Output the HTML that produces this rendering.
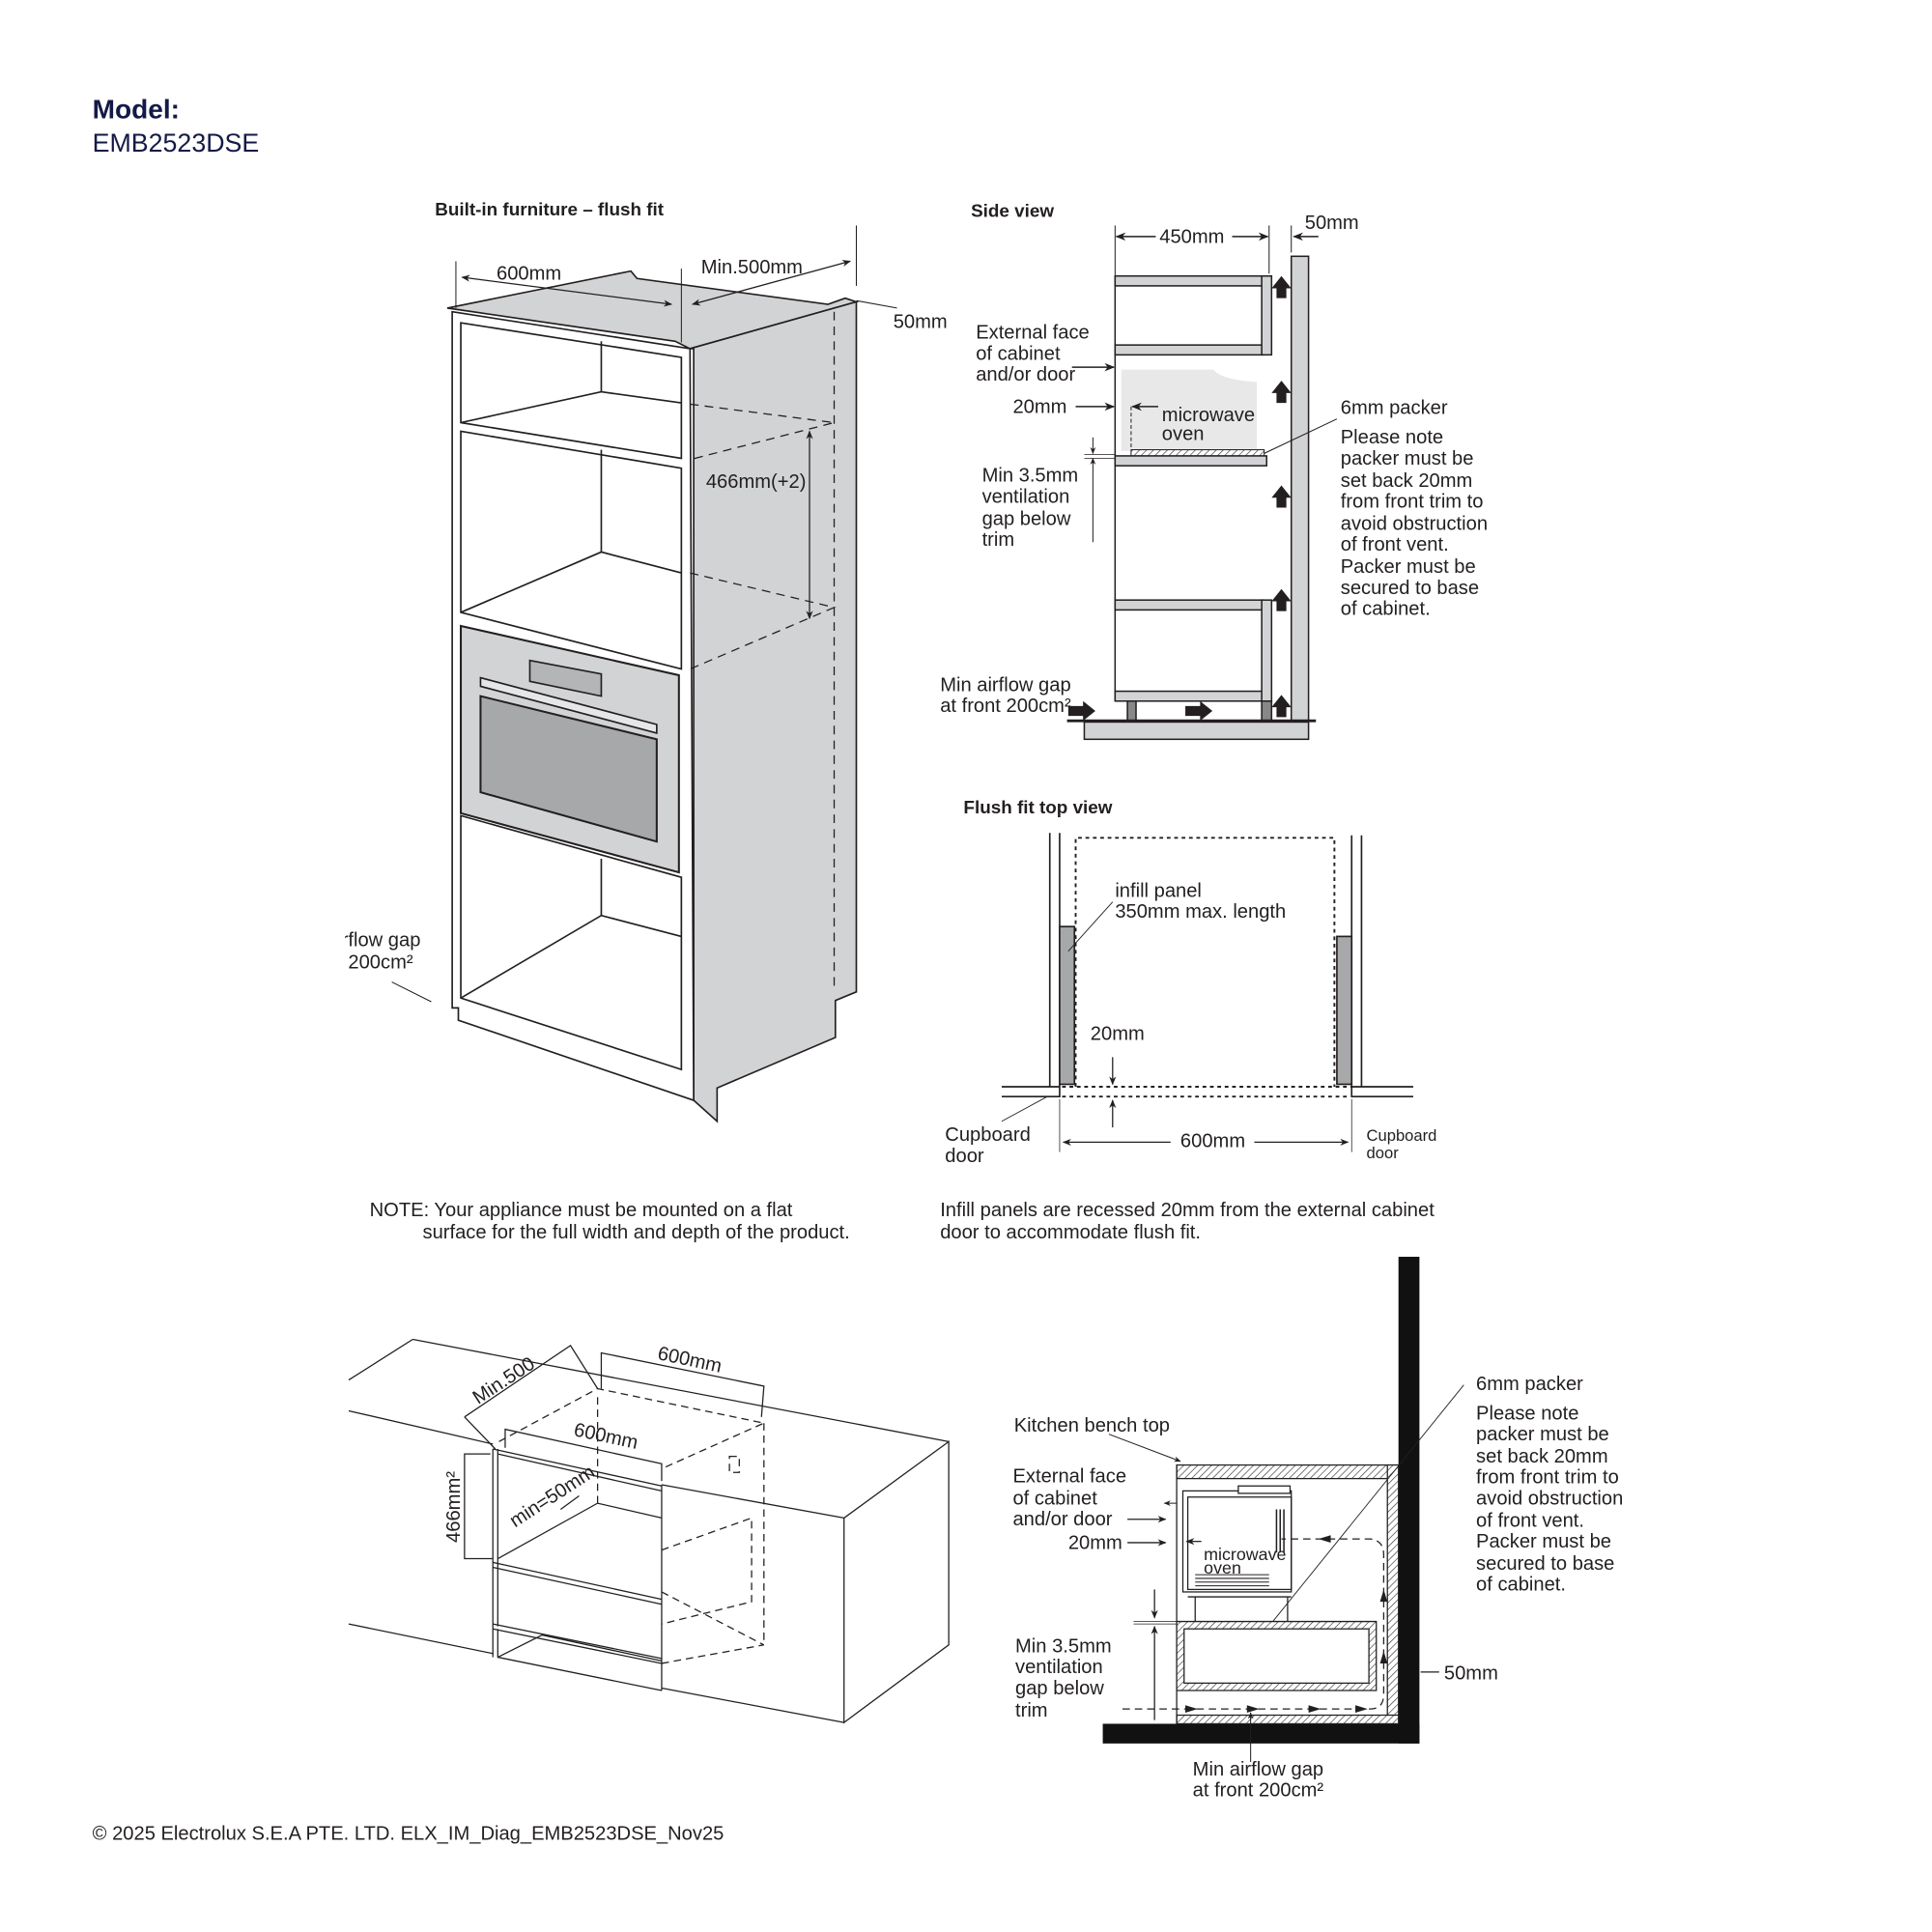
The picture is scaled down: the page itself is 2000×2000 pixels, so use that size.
<!DOCTYPE html>
<html><head><meta charset="utf-8"><style>
html,body{margin:0;padding:0;background:#fff;}
svg{display:block;}
text{font-family:"Liberation Sans",sans-serif;fill:#231f20;}
</style></head><body>
<svg width="2000" height="2000" viewBox="0 0 1568 1568" xmlns="http://www.w3.org/2000/svg">
<defs>
<marker id="a" viewBox="0 0 10 10" refX="9" refY="5" markerWidth="7" markerHeight="7" orient="auto-start-reverse"><path d="M0,1 L10,5 L0,9 L3,5 z" fill="#231f20"/></marker>
<pattern id="h" width="4" height="4" patternUnits="userSpaceOnUse" patternTransform="rotate(45)"><rect width="4" height="4" fill="#fff"/><line x1="0" y1="0" x2="0" y2="4" stroke="#333" stroke-width="1"/></pattern>
</defs>

<text x="75" y="96" font-size="22" font-weight="bold" style="fill:#141a46">Model:</text>
<text x="75" y="123" font-size="21" style="fill:#141a46">EMB2523DSE</text>

<!-- ===== Tall cabinet ===== -->
<text x="353" y="175" font-size="14.8" font-weight="bold">Built-in furniture – flush fit</text>
<g stroke="#231f20" stroke-width="1.3" fill="none">
<polygon points="363,250 512,220 517,226 672,247 686,242 695,245 560,283 548,277" fill="#d2d3d5"/>
<polygon points="560,283 695,245 695,805 678,812 678,842 582,883 582,910 563,893 563,283" fill="#d2d3d5"/>
<polygon points="367,253 560,283 563,893 372,828 372,818 367,818" fill="#fff"/>
<polygon points="374,262 553,290 553,372 374,343"/>
<polyline points="488,277 488,318"/><polyline points="374,343 488,318 553,327"/>
<polygon points="374,350 553,380 553,543 374,497"/>
<polyline points="488,365 488,448"/><polyline points="374,497 488,448 553,465"/>
<polygon points="374,508 551,548 551,708 374,660" fill="#d2d3d5" stroke-width="1.6"/>
<polygon points="430,536 488,547 488,565 430,553" fill="#b4b5b7"/>
<polygon points="390,550 533,588 533,595 390,557" fill="#e5e6e7"/>
<polygon points="390,565 533,600 533,683 390,643" fill="#a7a8aa" stroke-width="1.6"/>
<polygon points="374,662 553,712 553,868 374,810"/>
<polyline points="488,697 488,743"/><polyline points="374,810 488,743 553,760"/>
<g stroke-dasharray="7,5" stroke-width="1">
<line x1="677" y1="253" x2="677" y2="800"/>
<polyline points="560,328 677,343 560,373"/>
<polyline points="560,465 677,493 560,543"/>
</g>
<line x1="657" y1="350" x2="657" y2="502" marker-start="url(#a)" marker-end="url(#a)" stroke-width="1"/>
<line x1="370" y1="212" x2="370" y2="250" stroke-width="0.8"/>
<line x1="553" y1="218" x2="553" y2="278" stroke-width="0.8"/>
<line x1="375" y1="225" x2="545" y2="247" marker-start="url(#a)" marker-end="url(#a)" stroke-width="1"/>
<line x1="562" y1="247" x2="690" y2="212" marker-start="url(#a)" marker-end="url(#a)" stroke-width="1"/>
<line x1="695" y1="183" x2="695" y2="232" stroke-width="0.8"/>
<line x1="695" y1="244" x2="728" y2="250" stroke-width="0.8"/>
<line x1="318" y1="797" x2="350" y2="813" stroke-width="0.8"/>
</g>
<text x="403" y="227" font-size="15.8">600mm</text>
<text x="569" y="222" font-size="15.8">Min.500mm</text>
<text x="725" y="266" font-size="15.8">50mm</text>
<text x="573" y="396" font-size="15.8">466mm(+2)</text>
<svg x="280" y="750" width="80" height="45" viewBox="280 750 80 45" overflow="hidden"><text x="265" y="768" font-size="15.8">airflow gap</text><text x="265" y="786" font-size="15.8">at 200cm²</text></svg>

<!-- ===== Side view ===== -->
<text x="788" y="176" font-size="14.8" font-weight="bold">Side view</text>
<g stroke="#231f20" stroke-width="1.2" fill="none">
<line x1="905" y1="183" x2="905" y2="224" stroke-width="0.8"/>
<line x1="1030" y1="183" x2="1030" y2="222" stroke-width="0.8"/>
<line x1="906" y1="192" x2="938" y2="192" marker-start="url(#a)"/>
<line x1="1000" y1="192" x2="1029" y2="192" marker-end="url(#a)"/>
<line x1="1048" y1="183" x2="1048" y2="205" stroke-width="0.8"/>
<line x1="1070" y1="192" x2="1050" y2="192" marker-end="url(#a)"/>
<rect x="1048" y="208" width="14" height="377" fill="#d2d3d5"/>
<line x1="905" y1="224" x2="905" y2="569"/>
<rect x="905" y="224" width="120" height="8" fill="#d2d3d5"/>
<rect x="905" y="280" width="120" height="8" fill="#d2d3d5"/>
<rect x="1024" y="224" width="8" height="64" fill="#d2d3d5"/>
<path d="M910,300 L985,300 Q990,308 1020,310 L1020,366 L910,366 Z" fill="#e8e8e9" stroke="none"/>
<line x1="918" y1="330" x2="918" y2="364" stroke-dasharray="3,2" stroke-width="0.8"/>
<rect x="918" y="365" width="108" height="5" fill="url(#h)" stroke-width="0.8"/>
<rect x="905" y="370" width="123" height="8" fill="#d2d3d5"/>
<line x1="1085" y1="340" x2="1026" y2="368" stroke-width="0.8"/>
<rect x="905" y="487" width="120" height="8" fill="#d2d3d5"/>
<rect x="905" y="561" width="120" height="8" fill="#d2d3d5"/>
<rect x="1024" y="487" width="8" height="82" fill="#d2d3d5"/>
<rect x="915" y="569" width="7" height="16" fill="#888"/>
<rect x="1024" y="569" width="8" height="16" fill="#888"/>
<rect x="880" y="586" width="182" height="14" fill="#d2d3d5"/>
<line x1="866" y1="585" x2="1068" y2="585" stroke-width="2.2"/>
<line x1="870" y1="298" x2="904" y2="298" marker-end="url(#a)"/>
<line x1="873" y1="330" x2="904" y2="330" marker-end="url(#a)"/>
<line x1="940" y1="330" x2="919" y2="330" marker-end="url(#a)"/>
<line x1="887" y1="355" x2="887" y2="368" marker-end="url(#a)" stroke-width="0.8"/>
<line x1="887" y1="440" x2="887" y2="372" marker-end="url(#a)" stroke-width="0.8"/>
<line x1="880" y1="369" x2="905" y2="369" stroke-width="0.6"/>
<line x1="880" y1="372" x2="905" y2="372" stroke-width="0.6"/>
</g>
<g fill="#231f20">
<path d="M1036,242 h8 v-8 h4 l-8,-10 l-8,10 h4 z"/>
<path d="M1036,327 h8 v-8 h4 l-8,-10 l-8,10 h4 z"/>
<path d="M1036,412 h8 v-8 h4 l-8,-10 l-8,10 h4 z"/>
<path d="M1036,496 h8 v-8 h4 l-8,-10 l-8,10 h4 z"/>
<path d="M1036,582 h8 v-8 h4 l-8,-10 l-8,10 h4 z"/>
<path d="M867,573 v8 h12 v4 l10,-8 l-10,-8 v4 z"/>
<path d="M962,573 v8 h12 v4 l10,-8 l-10,-8 v4 z"/>
</g>
<g font-size="15.8">
<text x="941" y="197">450mm</text>
<text x="1059" y="186">50mm</text>
<text x="792" y="275">External face</text><text x="792" y="292">of cabinet</text><text x="792" y="309">and/or door</text>
<text x="822" y="335">20mm</text>
<text x="943" y="342">microwave</text><text x="943" y="357">oven</text>
<text x="797" y="391">Min 3.5mm</text><text x="797" y="408">ventilation</text><text x="797" y="426">gap below</text><text x="797" y="443">trim</text>
<text x="1088" y="336">6mm packer</text>
<text x="1088" y="360">Please note</text><text x="1088" y="377">packer must be</text><text x="1088" y="395">set back 20mm</text><text x="1088" y="412">from front trim to</text><text x="1088" y="430">avoid obstruction</text><text x="1088" y="447">of front vent.</text><text x="1088" y="465">Packer must be</text><text x="1088" y="482">secured to base</text><text x="1088" y="499">of cabinet.</text>
<text x="763" y="561">Min airflow gap</text><text x="763" y="578">at front 200cm²</text>
</g>

<!-- ===== Flush fit top view ===== -->
<text x="782" y="660" font-size="14.8" font-weight="bold">Flush fit top view</text>
<g stroke="#231f20" stroke-width="1.3" fill="none">
<line x1="852" y1="676" x2="852" y2="882"/><line x1="860" y1="676" x2="860" y2="882"/>
<line x1="1097" y1="678" x2="1097" y2="882"/><line x1="1105" y1="678" x2="1105" y2="882"/>
<polyline points="813,882 860,882"/><polyline points="813,890 860,890 860,882"/>
<polyline points="1097,882 1147,882"/><polyline points="1097,882 1097,890 1147,890"/>
<rect x="860" y="752" width="12" height="128" fill="#a7a8aa"/>
<rect x="1085" y="760" width="12" height="120" fill="#a7a8aa"/>
<g stroke-dasharray="3,3" stroke-width="1.5">
<polyline points="873,882 873,680 1083,680 1083,882"/>
<line x1="862" y1="882" x2="1097" y2="882"/>
<line x1="862" y1="890" x2="1095" y2="890"/>
</g>
<line x1="903" y1="732" x2="867" y2="772" stroke-width="0.7"/>
<line x1="903" y1="858" x2="903" y2="880" marker-end="url(#a)" stroke-width="1"/>
<line x1="903" y1="915" x2="903" y2="893" marker-end="url(#a)" stroke-width="1"/>
<line x1="813" y1="910" x2="850" y2="890" stroke-width="0.7"/>
<line x1="860" y1="892" x2="860" y2="935" stroke-width="0.6"/>
<line x1="1097" y1="892" x2="1097" y2="935" stroke-width="0.6"/>
<line x1="950" y1="927" x2="863" y2="927" marker-end="url(#a)" stroke-width="1"/>
<line x1="1018" y1="927" x2="1094" y2="927" marker-end="url(#a)" stroke-width="1"/>
</g>
<g font-size="15.8">
<text x="905" y="728">infill panel</text><text x="905" y="745">350mm max. length</text>
<text x="885" y="844">20mm</text>
<text x="958" y="931">600mm</text>
<text x="767" y="926">Cupboard</text><text x="767" y="943">door</text>
<text x="1109" y="926" font-size="13">Cupboard</text><text x="1109" y="940" font-size="13">door</text>
</g>

<g font-size="15.8">
<text x="300" y="987">NOTE: Your appliance must be mounted on a flat</text>
<text x="343" y="1005">surface for the full width and depth of the product.</text>
<text x="763" y="987">Infill panels are recessed 20mm from the external cabinet</text>
<text x="763" y="1005">door to accommodate flush fit.</text>
</g>

<!-- ===== Isometric bench ===== -->
<g stroke="#231f20" stroke-width="1" fill="none">
<line x1="283" y1="1120" x2="335" y2="1087"/>
<line x1="335" y1="1087" x2="770" y2="1170"/>
<line x1="283" y1="1145" x2="400" y2="1172"/>
<line x1="537" y1="1205" x2="685" y2="1232"/>
<polygon points="685,1232 770,1170 770,1335 685,1398"/>
<line x1="283" y1="1318" x2="400" y2="1342"/>
<line x1="537" y1="1370" x2="685" y2="1398"/>
<line x1="537" y1="1205" x2="537" y2="1372"/>
<line x1="400" y1="1176" x2="400" y2="1345"/><line x1="404" y1="1176" x2="404" y2="1320"/>
<polyline points="400,1176 537,1206"/>
<polyline points="404,1180 537,1210"/>
<polyline points="404,1265 485,1220 537,1232"/>
<line x1="485" y1="1220" x2="485" y2="1130" stroke-dasharray="6,4"/>
<polyline points="400,1268 537,1298"/>
<polyline points="400,1272 537,1302"/>
<polyline points="400,1318 537,1346"/>
<polyline points="400,1322 537,1350"/>
<polyline points="404,1322 404,1345 537,1372"/>
<polyline points="404,1345 440,1327 537,1348"/>
<g stroke-dasharray="6,4">
<polyline points="405,1170 485,1127 620,1155 537,1192"/>
<line x1="620" y1="1155" x2="620" y2="1335"/>
<polyline points="537,1258 610,1232 610,1300 537,1318"/>
<polyline points="537,1292 620,1335"/>
<line x1="537" y1="1350" x2="620" y2="1335"/>
<rect x="592" y="1182" width="8" height="13"/>
</g>
<polyline points="377,1150 463,1092 485,1127"/>
<line x1="377" y1="1150" x2="402" y2="1176"/>
<polyline points="488,1127 488,1098 620,1125 618,1150"/>
<polyline points="410,1175 410,1160 537,1188 537,1202"/>
<polyline points="398,1180 377,1180 377,1265 400,1265"/>
<line x1="455" y1="1225" x2="470" y2="1214"/>
</g>
<g font-size="15.8">
<text transform="translate(388,1140) rotate(-33)">Min.500</text>
<text transform="translate(533,1103) rotate(12)">600mm</text>
<text transform="translate(465,1165) rotate(12)">600mm</text>
<text transform="translate(373,1252) rotate(-90)">466mm²</text>
<text transform="translate(418,1240) rotate(-33)">min=50mm</text>
</g>

<!-- ===== Bottom right section ===== -->
<g stroke="#231f20" stroke-width="1" fill="none">
<rect x="1135" y="1020" width="17" height="395" fill="#111" stroke="none"/>
<rect x="895" y="1399" width="257" height="16" fill="#111" stroke="none"/>
<rect x="955" y="1189" width="180" height="11" fill="url(#h)"/>
<rect x="1126" y="1189" width="9" height="210" fill="url(#h)"/>
<rect x="955" y="1392" width="180" height="7" fill="url(#h)"/>
<line x1="955" y1="1189" x2="955" y2="1399"/>
<path d="M955,1316 h162 v56 h-162 z" fill="url(#h)"/>
<rect x="961" y="1322" width="150" height="44" fill="#fff"/>
<rect x="960" y="1210" width="88" height="82" fill="#fff"/>
<rect x="1005" y="1206" width="42" height="6" fill="#fff"/>
<rect x="964" y="1215" width="84" height="75"/>
<line x1="964" y1="1296" x2="1048" y2="1296"/>
<line x1="970" y1="1296" x2="970" y2="1316"/><line x1="1045" y1="1296" x2="1045" y2="1316"/>
<g stroke-width="0.8"><line x1="970" y1="1287" x2="1030" y2="1287"/><line x1="970" y1="1284" x2="1030" y2="1284"/><line x1="970" y1="1281" x2="1030" y2="1281"/><line x1="970" y1="1278" x2="1030" y2="1278"/></g>
<g stroke-width="1.2"><line x1="1036" y1="1225" x2="1036" y2="1260"/><line x1="1039" y1="1225" x2="1039" y2="1260"/><line x1="1042" y1="1225" x2="1042" y2="1260"/></g>
<line x1="1188" y1="1124" x2="1033" y2="1316" stroke-width="0.7"/>
<line x1="1153" y1="1357" x2="1168" y2="1357"/>
<line x1="900" y1="1164" x2="958" y2="1186" marker-end="url(#a)" stroke-width="0.8"/>
<line x1="915" y1="1233" x2="946" y2="1233" marker-end="url(#a)"/>
<line x1="915" y1="1252" x2="946" y2="1252" marker-end="url(#a)"/>
<line x1="975" y1="1251" x2="963" y2="1251" marker-end="url(#a)"/>
<line x1="945" y1="1220" x2="955" y2="1220" marker-start="url(#a)" stroke-width="0.8"/>
<line x1="937" y1="1290" x2="937" y2="1313" marker-end="url(#a)"/>
<line x1="937" y1="1396" x2="937" y2="1320" marker-end="url(#a)"/>
<line x1="920" y1="1316" x2="955" y2="1316" stroke-width="0.6"/>
<line x1="920" y1="1318" x2="955" y2="1318" stroke-width="0.6"/>
<line x1="1015" y1="1430" x2="1015" y2="1390" marker-end="url(#a)" stroke-width="0.8"/>
<path d="M911,1387 H1112 Q1123,1387 1123,1375 V1262 Q1123,1250 1112,1249 H1040" stroke-dasharray="6,4"/>
</g>
<g fill="#231f20">
<path d="M962,1384 l10,3 l-10,3 z"/><path d="M1012,1384 l10,3 l-10,3 z"/><path d="M1062,1384 l10,3 l-10,3 z"/><path d="M1100,1384 l10,3 l-10,3 z"/>
<path d="M1120,1350 l3,-10 l3,10 z"/><path d="M1120,1300 l3,-10 l3,10 z"/>
<path d="M1080,1246 l-10,3 l10,3 z"/>
</g>
<g font-size="15.8">
<text x="823" y="1162">Kitchen bench top</text>
<text x="822" y="1203">External face</text><text x="822" y="1221">of cabinet</text><text x="822" y="1238">and/or door</text>
<text x="867" y="1257">20mm</text>
<text x="977" y="1266" font-size="14">microwave</text><text x="977" y="1277" font-size="14">oven</text>
<text x="824" y="1341">Min 3.5mm</text><text x="824" y="1358">ventilation</text><text x="824" y="1375">gap below</text><text x="824" y="1393">trim</text>
<text x="968" y="1441">Min airflow gap</text><text x="968" y="1458">at front 200cm²</text>
<text x="1172" y="1363">50mm</text>
<text x="1198" y="1128">6mm packer</text>
<text x="1198" y="1152">Please note</text><text x="1198" y="1169">packer must be</text><text x="1198" y="1187">set back 20mm</text><text x="1198" y="1204">from front trim to</text><text x="1198" y="1221">avoid obstruction</text><text x="1198" y="1239">of front vent.</text><text x="1198" y="1256">Packer must be</text><text x="1198" y="1274">secured to base</text><text x="1198" y="1291">of cabinet.</text>
</g>

<text x="75" y="1493" font-size="15.8">© 2025 Electrolux S.E.A PTE. LTD. ELX_IM_Diag_EMB2523DSE_Nov25</text>
</svg>
</body></html>
